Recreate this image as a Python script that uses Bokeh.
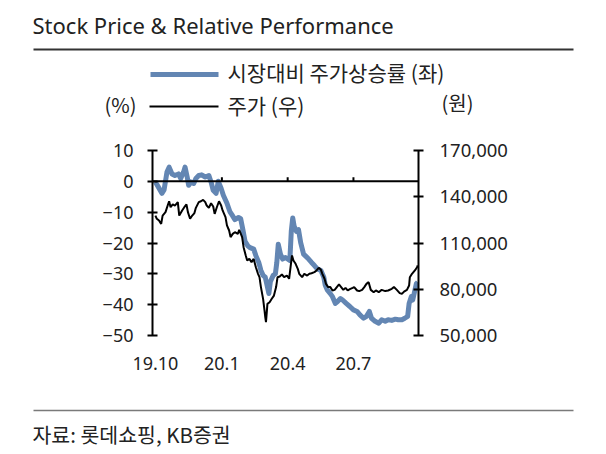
import pandas as pd
from bokeh.plotting import figure
from bokeh.layouts import column
from bokeh.models import (Range1d, LinearAxis, FixedTicker, NumeralTickFormatter,
                          Span, ColumnDataSource)
from bokeh.core.properties import value
from bokeh.embed import file_html
from bokeh.resources import INLINE

# Relative performance vs. market (%), left axis
rel_dates = ["2019-10-01", "2019-10-05", "2019-10-10", "2019-10-13", "2019-10-17", "2019-10-20",
             "2019-10-24", "2019-10-28", "2019-11-02", "2019-11-05", "2019-11-09", "2019-11-11",
             "2019-11-14", "2019-11-16", "2019-11-19", "2019-11-23", "2019-11-26", "2019-11-30",
             "2019-12-04", "2019-12-09", "2019-12-14", "2019-12-17", "2019-12-20", "2019-12-24",
             "2019-12-27", "2019-12-31", "2020-01-03", "2020-01-08", "2020-01-12", "2020-01-15",
             "2020-01-19", "2020-01-24", "2020-01-27", "2020-01-30", "2020-02-02", "2020-02-06",
             "2020-02-09", "2020-02-14", "2020-02-17", "2020-02-21", "2020-02-24", "2020-02-27",
             "2020-03-01", "2020-03-03", "2020-03-06", "2020-03-08", "2020-03-12", "2020-03-15",
             "2020-03-17", "2020-03-19", "2020-03-22", "2020-03-25", "2020-03-29", "2020-04-01",
             "2020-04-04", "2020-04-06", "2020-04-08", "2020-04-10", "2020-04-13", "2020-04-16",
             "2020-04-19", "2020-04-23", "2020-04-27", "2020-04-30", "2020-05-04", "2020-05-08",
             "2020-05-12", "2020-05-17", "2020-05-21", "2020-05-23", "2020-05-26", "2020-05-30",
             "2020-06-02", "2020-06-06", "2020-06-09", "2020-06-13", "2020-06-16", "2020-06-21",
             "2020-06-26", "2020-07-01", "2020-07-06", "2020-07-10", "2020-07-15", "2020-07-19",
             "2020-07-23", "2020-07-26", "2020-07-31", "2020-08-05", "2020-08-09", "2020-08-14",
             "2020-08-18", "2020-08-23", "2020-08-28", "2020-09-01", "2020-09-06", "2020-09-10",
             "2020-09-14", "2020-09-16", "2020-09-19", "2020-09-21", "2020-09-23", "2020-09-26",
             "2020-09-28"]
rel_values = [-0.2, -1.8, -3.9, -2.8, 3.0, 4.6, 2.4, 1.9, 2.4, 0.9, 3.0, 4.6,
              1.4, -1.3, -0.2, -0.7, 0.9, 1.9, 2.1, 1.4, 1.9, -0.2, -2.9, -3.9,
              0.0, -2.3, -4.5, -7.1, -9.8, -10.9, -12.4, -11.7, -12.1, -15.6, -19.4, -21.0,
              -21.5, -22.0, -24.1, -26.3, -28.9, -30.5, -31.1, -33.2, -36.4, -32.6, -30.5, -30.0,
              -26.3, -20.4, -23.6, -25.2, -24.7, -25.2, -25.7, -16.2, -11.9, -14.6, -16.2, -15.7,
              -19.9, -23.6, -24.5, -25.2, -26.3, -27.3, -28.4, -28.9, -31.1, -33.7, -35.3, -36.4,
              -37.4, -39.6, -39.0, -38.0, -38.5, -39.6, -40.6, -41.7, -42.2, -43.3, -44.4, -43.8,
              -42.2, -44.4, -45.4, -46.0, -44.9, -45.4, -44.9, -45.1, -44.7, -44.9, -44.9, -44.4,
              -43.8, -39.6, -37.4, -38.5, -36.4, -33.2, -32.7]

# Share price (KRW), right axis
price_dates = ["2019-10-01", "2019-10-03", "2019-10-06", "2019-10-09", "2019-10-11", "2019-10-15",
               "2019-10-18", "2019-10-20", "2019-10-22", "2019-10-25", "2019-10-28", "2019-11-01",
               "2019-11-03", "2019-11-07", "2019-11-10", "2019-11-13", "2019-11-15", "2019-11-18",
               "2019-11-21", "2019-11-24", "2019-11-26", "2019-11-30", "2019-12-03", "2019-12-06",
               "2019-12-09", "2019-12-11", "2019-12-14", "2019-12-17", "2019-12-20", "2019-12-22",
               "2019-12-25", "2019-12-28", "2019-12-31", "2020-01-02", "2020-01-06", "2020-01-08",
               "2020-01-11", "2020-01-13", "2020-01-16", "2020-01-19", "2020-01-23", "2020-01-25",
               "2020-01-29", "2020-01-31", "2020-02-03", "2020-02-05", "2020-02-08", "2020-02-11",
               "2020-02-14", "2020-02-17", "2020-02-20", "2020-02-22", "2020-02-24", "2020-02-27",
               "2020-02-29", "2020-03-01", "2020-03-02", "2020-03-04", "2020-03-07", "2020-03-10",
               "2020-03-13", "2020-03-16", "2020-03-18", "2020-03-21", "2020-03-24", "2020-03-27",
               "2020-03-31", "2020-04-03", "2020-04-05", "2020-04-07", "2020-04-09", "2020-04-12",
               "2020-04-15", "2020-04-17", "2020-04-21", "2020-04-24", "2020-04-28", "2020-05-01",
               "2020-05-04", "2020-05-08", "2020-05-11", "2020-05-14", "2020-05-17", "2020-05-19",
               "2020-05-22", "2020-05-24", "2020-05-27", "2020-05-30", "2020-06-02", "2020-06-05",
               "2020-06-08", "2020-06-11", "2020-06-14", "2020-06-17", "2020-06-20", "2020-06-23",
               "2020-06-26", "2020-06-30", "2020-07-02", "2020-07-06", "2020-07-09", "2020-07-13",
               "2020-07-16", "2020-07-19", "2020-07-22", "2020-07-25", "2020-07-29", "2020-08-01",
               "2020-08-05", "2020-08-09", "2020-08-14", "2020-08-18", "2020-08-23", "2020-08-26",
               "2020-08-30", "2020-09-03", "2020-09-06", "2020-09-09", "2020-09-13", "2020-09-16",
               "2020-09-17", "2020-09-20", "2020-09-22", "2020-09-24", "2020-09-27", "2020-09-28"]
price_values = [127800, 125700, 124600, 122400, 127800, 130000,
                134300, 137100, 133200, 135000, 134300, 136500,
                127800, 131100, 133200, 135000, 130000, 125700,
                127800, 129400, 132800, 136500, 137100, 138000,
                136500, 134300, 132800, 135800, 133700, 128900,
                133200, 137100, 134300, 131100, 126800, 121400,
                118100, 113800, 115900, 117000, 115900, 118500,
                113800, 107300, 101900, 98700, 99700, 97600,
                99700, 94300, 90000, 87800, 81400, 73800,
                66200, 61900, 58700, 70500, 71600, 73800,
                75900, 81400, 87800, 88300, 89600, 87800,
                88900, 86800, 94300, 101900, 98700, 96500,
                93200, 90000, 87800, 90000, 88900, 90000,
                90400, 91100, 92200, 93900, 92600, 90000,
                86800, 83500, 81400, 81400, 79200, 79600,
                81400, 83100, 81400, 79600, 80900, 79200,
                80100, 80900, 81400, 79200, 78800, 79600,
                81400, 83500, 84600, 79600, 78100, 79200,
                78100, 79600, 78800, 79200, 80300, 81400,
                79600, 77500, 77000, 78500, 79600, 82400,
                87800, 90000, 91100, 92200, 94300, 95400]

x_tick_dates = ["2019-10-01", "2020-01-01", "2020-04-01", "2020-07-01"]
x_tick_labels = ["19.10", "20.1", "20.4", "20.7"]
left_ticks = [10, 0, -10, -20, -30, -40, -50]
right_ticks = [50000, 80000, 110000, 140000, 170000]

TITLE = "Stock Price & Relative Performance"
LEGEND_REL = "시장대비 주가상승률 (좌)"
LEGEND_PRICE = "주가 (우)"
LEFT_UNIT = "(%)"
RIGHT_UNIT = "(원)"
SOURCE = "자료: 롯데쇼핑, KB증권"

W = 606
HEAD_H, MAIN_H, FOOT_H = 126, 269, 59
BLUE = "#6386b3"
INK = "#222222"
NUM_FONT = "Noto Sans"
KR_FONT = "Noto Sans CJK KR"


def canvas(height):
    """A bare strip whose data units are pixels, y growing downward."""
    f = figure(width=W, height=height, x_range=Range1d(0, W), y_range=Range1d(height, 0),
               output_backend="svg", toolbar_location=None,
               min_border=0, outline_line_color=None, frame_align=False,
               background_fill_color="white", border_fill_color="white")
    f.axis.visible = False
    f.grid.visible = False
    return f


def put_text(f, x, y, s, font, size, color=INK):
    f.text(x=[x], y=[y], text=[s], text_font=value(font), text_font_size=value(size),
           text_color=color, text_align="left", text_baseline="middle")


# ---- header: title, rule, legend ----
head = canvas(HEAD_H)
put_text(head, 32, 24, TITLE, NUM_FONT, "22px")
head.segment(x0=[33], x1=[573], y0=[49], y1=[49], line_color="#333333", line_width=2)
head.segment(x0=[150], x1=[218], y0=[74], y1=[74], line_color=BLUE, line_width=5)
put_text(head, 227, 71, LEGEND_REL, KR_FONT, "21px")
put_text(head, 104, 104, LEFT_UNIT, KR_FONT, "20px")
head.segment(x0=[149], x1=[218], y0=[106], y1=[106], line_color="black", line_width=2)
put_text(head, 227, 104, LEGEND_PRICE, KR_FONT, "21px")
put_text(head, 441, 102, RIGHT_UNIT, KR_FONT, "20px")

# ---- main chart ----
rel = ColumnDataSource(dict(x=pd.to_datetime(rel_dates), y=rel_values))
price = ColumnDataSource(dict(x=pd.to_datetime(price_dates), y=price_values))

p = figure(width=W, height=MAIN_H, x_axis_type="datetime",
           x_range=Range1d(pd.Timestamp("2019-09-27"), pd.Timestamp("2020-09-29")),
           y_range=Range1d(-50, 10),
           output_backend="svg", toolbar_location=None,
           min_border_left=152, min_border_right=188,
           min_border_top=24, min_border_bottom=60, frame_align=False,
           background_fill_color="white", border_fill_color="white",
           outline_line_color=None)
p.extra_y_ranges = {"price": Range1d(50000, 170000)}
p.grid.visible = False

ya = p.yaxis[0]
ya.ticker = FixedTicker(ticks=left_ticks)
ya.axis_line_width = 2
ya.axis_line_color = "black"
ya.major_tick_line_width = 2
ya.major_tick_line_color = "black"
ya.major_tick_in = 5
ya.major_tick_out = 5
ya.minor_tick_line_color = None
ya.major_label_standoff = 14
ya.major_label_text_font = NUM_FONT
ya.major_label_text_font_size = "18px"
ya.major_label_text_color = INK

ra = LinearAxis(y_range_name="price", ticker=FixedTicker(ticks=right_ticks),
                formatter=NumeralTickFormatter(format="0,0"))
ra.axis_line_width = 2
ra.axis_line_color = "black"
ra.major_tick_line_width = 2
ra.major_tick_line_color = "black"
ra.major_tick_in = 5
ra.major_tick_out = 5
ra.minor_tick_line_color = None
ra.major_label_standoff = 16
ra.major_label_text_font = NUM_FONT
ra.major_label_text_font_size = "18.5px"
ra.major_label_text_color = INK
p.add_layout(ra, "right")

# date labels under the frame; the axis line itself is the zero line
xa = p.xaxis[0]
tick_ms = [float(pd.Timestamp(d).value // 10**6) for d in x_tick_dates]
xa.ticker = FixedTicker(ticks=tick_ms)
xa.major_label_overrides = {t: lab for t, lab in zip(tick_ms, x_tick_labels)}
xa.axis_line_color = None
xa.major_tick_line_color = None
xa.minor_tick_line_color = None
xa.major_label_standoff = 15
xa.major_label_text_font = NUM_FONT
xa.major_label_text_font_size = "18px"
xa.major_label_text_color = INK

p.add_layout(Span(location=0, dimension="width", line_color="black", line_width=2))
tick_src = ColumnDataSource(dict(x=pd.to_datetime(x_tick_dates[1:])))
p.segment(x0="x", x1="x", y0=0, y1=1.3, source=tick_src, line_color="black", line_width=2)

p.line("x", "y", source=rel, line_color=BLUE, line_width=5, line_join="round")
p.line("x", "y", source=price, y_range_name="price", line_color="black", line_width=2)

# ---- footer: rule and source ----
foot = canvas(FOOT_H)
foot.segment(x0=[33], x1=[573], y0=[15], y1=[15], line_color="#7a7a7a", line_width=1.5)
put_text(foot, 32, 38, SOURCE, KR_FONT, "20.5px")

layout = column(head, p, foot, spacing=0)
open("out.html", "w").write(file_html(layout, INLINE))
